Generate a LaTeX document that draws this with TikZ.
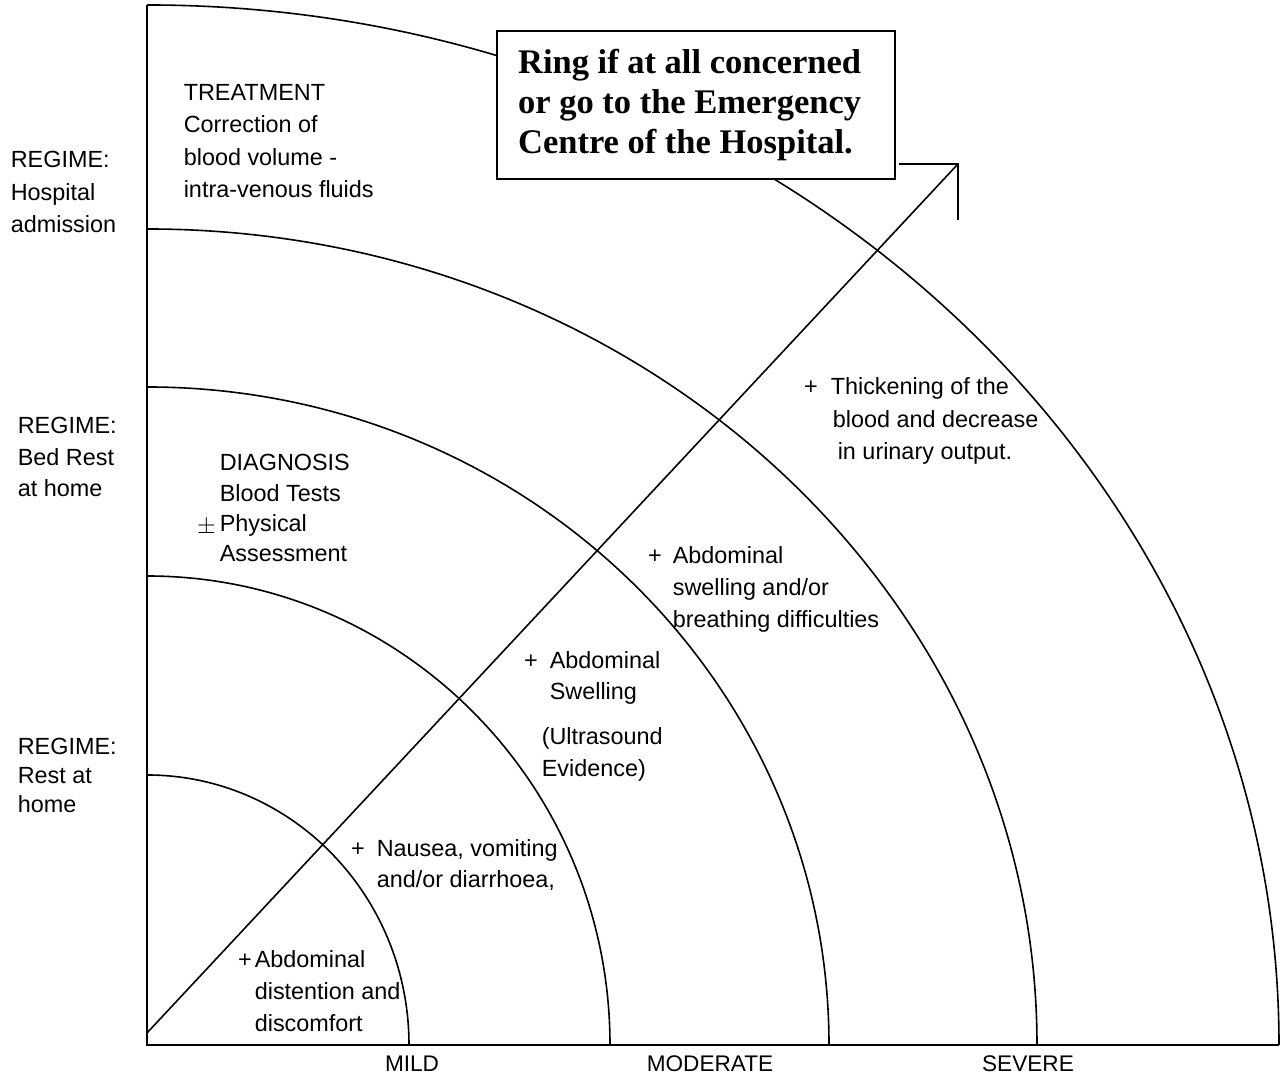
\documentclass[tikz,border=0pt]{standalone}
\usepackage{fontspec}
\setmainfont{Liberation Sans}
\newfontfamily\boxfont{Liberation Serif}
\begin{document}
\begin{tikzpicture}[x=0.5pt,y=0.5pt,line width=0.8pt,
  lbl/.style={align=left,inner sep=0pt,anchor=base west,font={\fontsize{11.7pt}{#1}\selectfont}},
  lbl/.default=16pt,
  axislbl/.style={inner sep=0pt,anchor=base,font={\fontsize{11.3pt}{14pt}\selectfont}},
  callout/.style={draw,line width=1.1pt,fill=white,anchor=north west,text width=178pt,
    inner xsep=10.5pt,inner ysep=9pt,align=flush left,
    font={\boxfont\bfseries\fontsize{17.25pt}{20pt}\selectfont}},
  ring/.style={line width=0.8pt}]
\useasboundingbox (0,0) rectangle (1287,1079);
% axes
\coordinate (O) at (147,34);
\coordinate (top) at (147,1074);
\coordinate (xend) at (1279,34);
\draw (top) -- (O) -- (xend);
% severity rings
\draw[ring] (147,304) arc[start angle=90,end angle=0,x radius=131pt,y radius=135pt];
\draw[ring] (147,503) arc[start angle=90,end angle=0,x radius=231.5pt,y radius=234.5pt];
\draw[ring] (147,692) arc[start angle=90,end angle=0,x radius=341pt,y radius=329pt];
\draw[ring] (147,850) arc[start angle=90,end angle=0,x radius=445pt,y radius=408pt];
\draw[ring] (top) arc[start angle=90,end angle=0,x radius=566pt,y radius=520pt];
% diagonal and bracket
\coordinate (dstart) at (147,46);
\coordinate (apex) at (958,915);
\coordinate (brl) at (899,915);
\coordinate (brb) at (958,859);
\draw (dstart) -- (apex);
\draw (brl) -- (apex) -- (brb);
% callout box
\node[callout] (call) at (496,1049) {Ring if at all concerned\\or go to the Emergency\\Centre of the Hospital.};
% regime labels (anchored at the baseline of the last line)
\node[lbl=16.25pt] (reg3) at (10,846) {REGIME:\\Hospital\\admission};
\node[lbl=15.75pt] (reg2) at (17,582) {REGIME:\\Bed Rest\\at home};
\node[lbl=14.5pt] (reg1) at (17,266) {REGIME:\\Rest at\\home};
% zone texts
\node[lbl=16.25pt] (treat) at (183,881) {TREATMENT\\Correction of\\blood volume -\\intra-venous fluids};
\node[lbl=15.2pt] (diag) at (219,517) {DIAGNOSIS\\Blood Tests\\\llap{\raisebox{-1pt}{\(\pm\)}\hspace{2pt}}Physical\\Assessment};
% symptoms
\node[lbl=16pt] (s1) at (254,47) {\llap{+\hspace{1.5pt}}Abdominal\\distention and\\discomfort};
\node[lbl=15.5pt] (s2) at (376,191) {\llap{+\hspace{6pt}}Nausea, vomiting\\and/or diarrhoea,};
\node[lbl=15.5pt] (s3) at (549,379) {\llap{+\hspace{6pt}}Abdominal\\Swelling};
\node[lbl=16pt] (s3b) at (541,302) {(Ultrasound\\Evidence)};
\node[lbl=16pt] (s4) at (672,451) {\llap{+\hspace{5.5pt}}Abdominal\\swelling and/or\\breathing difficulties};
\node[lbl=16.25pt] (s5) at (830,619) {\llap{+\hspace{6.5pt}}Thickening of the\\\hspace*{1pt}blood and decrease\\\hspace*{3.5pt}in urinary output.};
% severity axis labels
\node[axislbl] (mild) at (412,7) {MILD};
\node[axislbl] (mod) at (710,7) {MODERATE};
\node[axislbl] (sev) at (1028,7) {SEVERE};
\end{tikzpicture}
\end{document}
